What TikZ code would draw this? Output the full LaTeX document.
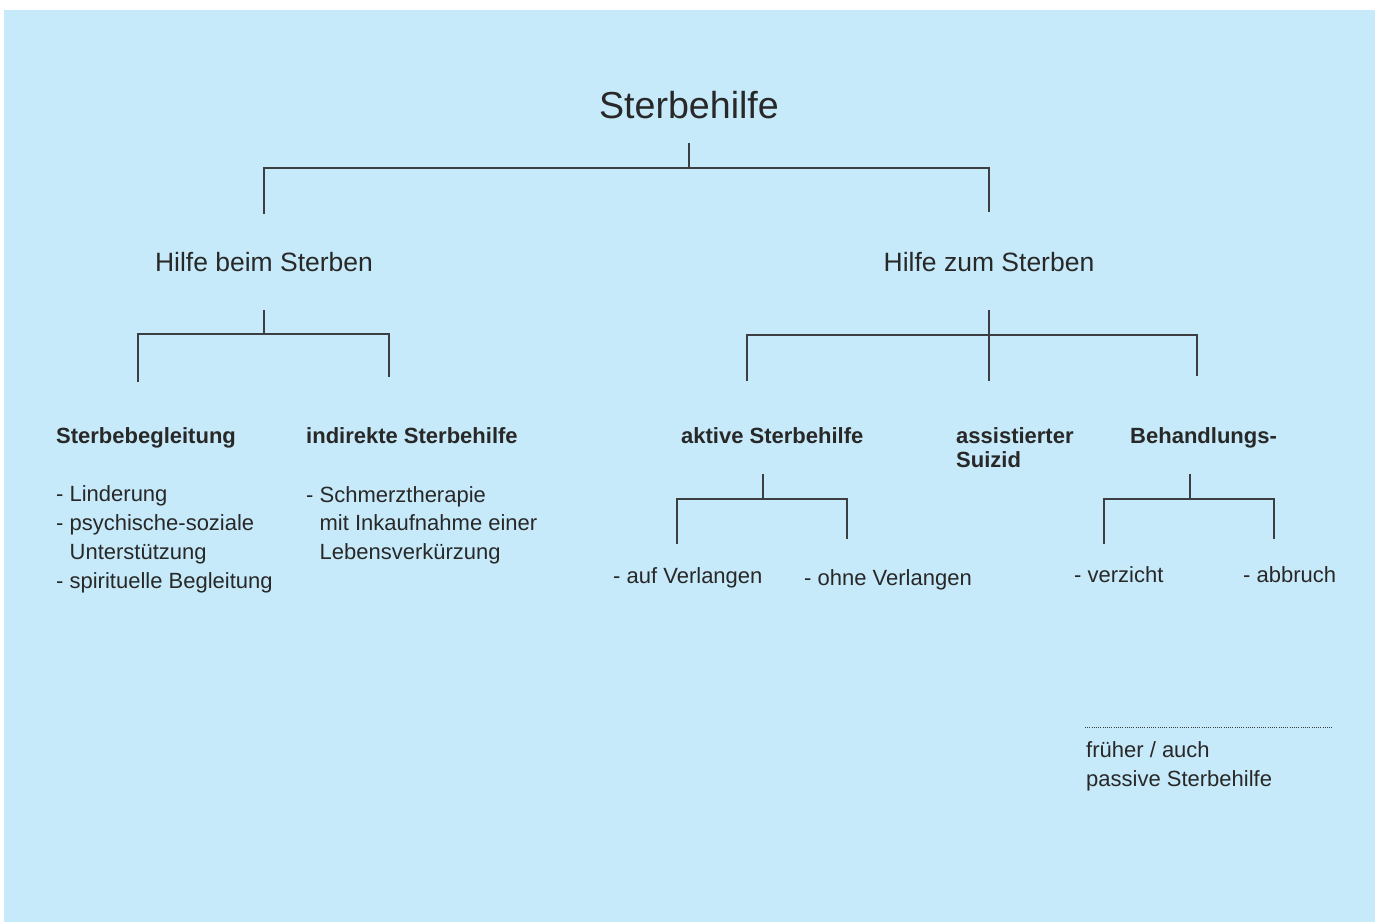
\documentclass[tikz,border=0pt]{standalone}
\usepackage{fontspec}
\setmainfont{Liberation Sans}
\usepackage{tikz}
\usetikzlibrary{positioning, calc}
\definecolor{bgblue}{RGB}{198,234,249}
\definecolor{inkgray}{RGB}{40,40,40}
\definecolor{linegray}{RGB}{60,62,66}

\begin{document}
\begin{tikzpicture}[
  x=1pt, y=-1pt,
  every node/.style={inner sep=0pt, text=inkgray},
  topnode/.style={anchor=base, font=\fontsize{37.6}{40}\selectfont},
  midnode/.style={anchor=base, font=\fontsize{26.5}{30}\selectfont},
  headnode/.style={anchor=base west, align=left, font=\fontsize{22}{24.5}\selectfont\bfseries},
  listnode/.style={anchor=base west, align=left, font=\fontsize{22}{28.7}\selectfont},
  linkline/.style={draw=linegray, line width=1.5pt},
  dotline/.style={draw=linegray, line width=0.9pt, dash pattern=on 1pt off 1.2pt}
]
\useasboundingbox (0,0) rectangle (1381,922);
\fill[bgblue] (4,10) rectangle (1375,922);

% Title and the two main branches
\node[topnode] (top) at (689,118) {Sterbehilfe};
\node[midnode] (hbs) at (264,271) {Hilfe beim Sterben};
\node[midnode] (hzs) at (989,271) {Hilfe zum Sterben};

\draw[linkline] (top |- 0,143) -- (top |- 0,168) -| (hbs |- 0,214);
\draw[linkline] (top |- 0,168) -| (hzs |- 0,212);

% Hilfe beim Sterben
\node[headnode] (sbg) at (56,443) {Sterbebegleitung};
\node[headnode] (ish) at (306,443) {indirekte Sterbehilfe};
% multi-line nodes: base = last line
\node[listnode] (sbglist) at (56,588) {- Linderung\\- psychische-soziale\\\phantom{- }Unterstützung\\- spirituelle Begleitung};
\node[listnode] (ishlist) at (306,559.5) {- Schmerztherapie\\\phantom{- }mit Inkaufnahme einer\\\phantom{- }Lebensverkürzung};

\coordinate (sbgleg) at (138,382);
\coordinate (ishleg) at (389,377);
\draw[linkline] (hbs |- 0,310) -- (hbs |- 0,334) -| (sbgleg);
\draw[linkline] (hbs |- 0,334) -| (ishleg);

% Hilfe zum Sterben
\node[headnode] (ash) at (681,443) {aktive Sterbehilfe};
\node[headnode] (asu) at (956,467.5) {assistierter\\Suizid};
\node[headnode] (beh) at (1130,443) {Behandlungs-};

\coordinate (ashleg) at (747,381);
\coordinate (behleg) at (1197,376);
\draw[linkline] (hzs |- 0,310) -- (hzs |- 0,381);
\draw[linkline] (ashleg) |- (hzs |- 0,335) -| (behleg);

% aktive Sterbehilfe
\node[listnode] (auf) at (613,583) {- auf Verlangen};
\node[listnode] (ohne) at (804,585) {- ohne Verlangen};
\coordinate (ashfork) at (763,474);
\coordinate (aufleg) at (677,544);
\coordinate (ohneleg) at (847,539);
\draw[linkline] (ashfork) -- ++(0,25) -| (aufleg);
\draw[linkline] (ashfork) ++(0,25) -| (ohneleg);

% Behandlungs-
\node[listnode] (verz) at (1074,582) {- verzicht};
\node[listnode] (abbr) at (1243,582) {- abbruch};
\coordinate (behfork) at (1190,474);
\coordinate (verzleg) at (1104,544);
\coordinate (abbrleg) at (1274,539);
\draw[linkline] (behfork) -- ++(0,25) -| (verzleg);
\draw[linkline] (behfork) ++(0,25) -| (abbrleg);

% Anmerkung
\node[listnode] (note) at (1086,786) {früher / auch\\passive Sterbehilfe};
\coordinate (dotleft) at (1085,727);
\coordinate (dotright) at (1332,727);
\draw[dotline] (dotleft) -- (dotright);

\end{tikzpicture}
\end{document}
